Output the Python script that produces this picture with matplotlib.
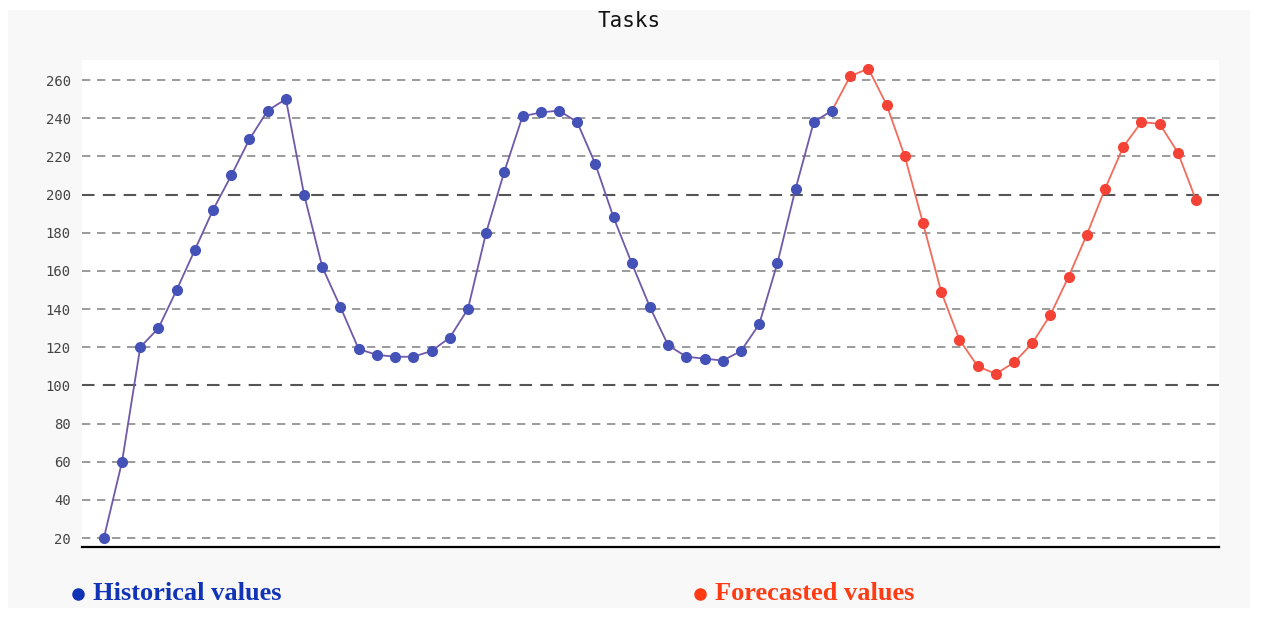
import matplotlib.pyplot as plt
from matplotlib.patches import Rectangle
from matplotlib.lines import Line2D

# values
historical = [20, 60, 120, 130, 150, 171, 192, 210, 229, 244, 250, 200, 162, 141,
              119, 116, 115, 115, 118, 125, 140, 180, 212, 241, 243, 244, 238, 216,
              188, 164, 141, 121, 115, 114, 113, 118, 132, 164, 203, 238, 244]
forecast = [262, 266, 247, 220, 185, 149, 124, 110, 106, 112, 122, 137, 157, 179,
            203, 225, 238, 237, 222, 197]
yticks = [20, 40, 60, 80, 100, 120, 140, 160, 180, 200, 220, 240, 260]
strong_lines = [100, 200]

hist_x = list(range(len(historical)))
# forecast line starts from the last historical point
fc_x = list(range(len(historical) - 1, len(historical) + len(forecast)))
fc_y = [historical[-1]] + forecast

W, H = 1264, 632
fig = plt.figure(figsize=(W / 100, H / 100), dpi=100)
fig.patch.set_facecolor('white')
fig.add_artist(Rectangle((8 / W, 1 - 608 / H), 1242 / W, 598 / H,
                         transform=fig.transFigure, facecolor='#f8f8f8',
                         edgecolor='none', zorder=-5))

ax = fig.add_axes([82 / W, 1 - 547 / H, 1137 / W, 487 / H])
ax.set_zorder(1)
ax.set_facecolor('white')

for v in yticks:
    if v in strong_lines:
        ax.axhline(v, color='#555555', lw=1.5, ls=(0, (6, 4)), zorder=1)
    else:
        ax.axhline(v, color='#8a8a8a', lw=1.2, ls=(0, (5, 4)), zorder=1)

ax.plot(fc_x, fc_y, color='#f26b5b', lw=1.3, zorder=2)
ax.plot(fc_x[1:], forecast, 'o', color='#f44336', ms=7, mec='#f44336', zorder=3)
ax.plot(hist_x, historical, color='#7158a8', lw=1.3, zorder=2)
ax.plot(hist_x, historical, 'o', color='#4452b8', ms=7, mec='#4452b8', zorder=3)

ax.set_xlim(-1.2, 61.26)
ax.set_ylim(15.3, 270.5)
ax.set_yticks(yticks)
ax.set_xticks([])
ax.tick_params(axis='y', length=0, pad=8, labelsize=10, labelcolor='#444444')
for lab in ax.get_yticklabels():
    lab.set_family('DejaVu Sans Mono')
for s in ['left', 'right', 'top']:
    ax.spines[s].set_visible(False)
ax.spines['bottom'].set_color('black')
ax.spines['bottom'].set_linewidth(1.6)

fig.text(629 / W, 1 - 21 / H, 'Tasks', ha='center', va='center',
         family='DejaVu Sans Mono', fontsize=15, color='#111111')

# legend drawn below the plot
fig.add_artist(Line2D([78 / W], [1 - 594 / H], marker='o', ms=8, color='#1133b5',
                      transform=fig.transFigure, lw=0))
fig.text(93 / W, 1 - 593 / H, 'Historical values', ha='left', va='center',
         family='Liberation Serif', fontweight='bold', fontsize=19, color='#1133b5')
fig.add_artist(Line2D([700 / W], [1 - 594 / H], marker='o', ms=8, color='#ff3b14',
                      transform=fig.transFigure, lw=0))
fig.text(715 / W, 1 - 593 / H, 'Forecasted values', ha='left', va='center',
         family='Liberation Serif', fontweight='bold', fontsize=19, color='#ff3b14')

fig.savefig('out.png', dpi=100)
